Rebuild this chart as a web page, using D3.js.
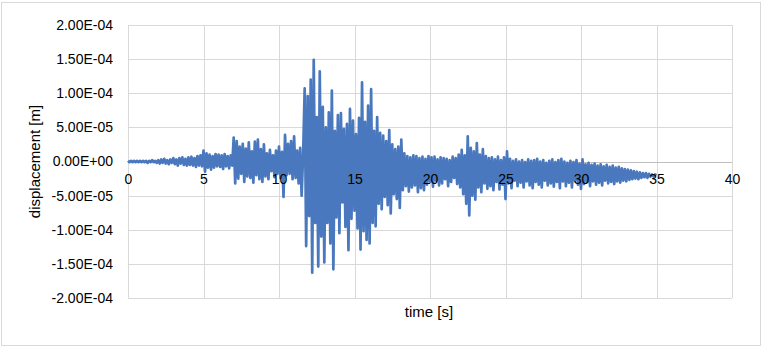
<!DOCTYPE html>
<html>
<head>
<meta charset="utf-8">
<script src="https://d3js.org/d3.v7.min.js"></script>
<style>
  body { margin: 0; background: #fff; }
  text { font-family: "Liberation Sans", Arial, sans-serif; fill: #000; }
</style>
</head>
<body>
<script>
  const W = 763, H = 348
  const margin = { top: 25, right: 31, bottom: 50, left: 128 }

  // x axis (time, s)
  const xTicks = [0, 5, 10, 15, 20, 25, 30, 35, 40]
  // y axis (displacement, m)
  const yTicks = [2e-4, 1.5e-4, 1e-4, 5e-5, 0, -5e-5, -1e-4, -1.5e-4, -2e-4]
  const yTickLabels = ["2.00E-04", "1.50E-04", "1.00E-04", "5.00E-05", "0.00E+00",
                       "-5.00E-05", "-1.00E-04", "-1.50E-04", "-2.00E-04"]

  const t0 = 0, dt = 0.1
  const disp = [
    0.1,-0.1,0.1,-0.1,0.1,-0.1,0.1,-0.1,0.1,-0.1,
    0.1,-0.1,0.1,-0.2,0.1,-0.1,0.2,-0.1,0.1,-0.2,
    0.2,-0.3,0.3,-0.2,0.4,-0.3,0.2,-0.4,0.3,-0.2,
    0.5,-0.4,0.3,-0.6,0.5,-0.3,0.6,-0.5,0.4,-0.6,
    0.6,-0.5,0.7,-0.6,0.5,-0.8,0.8,-0.6,0.9,-0.7,
    1.6,-1.5,1.2,-0.9,1.0,-1.2,0.8,-0.9,1.1,-0.7,
    1.0,-0.8,0.9,-1.1,1.1,-0.7,0.8,-1.0,0.9,-0.6,
    3.5,-3.2,3.0,-2.5,2.2,-1.8,2.6,-3.0,1.9,-2.2,
    2.8,-2.4,1.5,-3.1,2.9,-2.0,3.2,-2.6,1.8,-3.0,
    2.5,-2.2,1.2,-2.6,1.7,-1.4,0.9,-2.3,1.6,-1.8,
    2.2,-2.4,1.4,-5.2,3.9,-2.0,2.6,-1.8,3.0,-2.6,
    3.7,-2.4,1.6,-3.2,2.0,-5.0,1.2,10.7,-12.4,9.6,
    -8.0,12.0,-16.3,14.9,-9.0,6.5,-15.4,13.2,-11.0,8.0,
    -14.8,5.0,-9.0,7.2,-12.0,10.4,-15.8,4.5,-8.2,6.8,
    -10.5,7.1,-6.0,4.8,-9.6,5.5,-13.0,7.7,-8.4,6.0,
    -7.2,4.0,-9.8,6.4,-12.9,11.6,-10.2,5.8,-11.5,8.2,
    -12.0,10.6,-9.0,4.5,-9.5,6.5,-6.2,4.2,-7.0,3.8,
    -5.2,3.0,-6.4,4.6,-7.6,2.5,-4.8,1.8,-5.5,2.2,
    -6.8,3.2,-4.2,1.2,-3.6,0.8,-4.4,0.6,-3.8,0.9,
    -3.5,0.8,-4.5,0.5,-3.9,0.7,-4.2,0.4,-3.4,0.8,
    -3.0,0.6,-3.7,0.7,-2.8,0.3,-3.5,0.6,-3.2,0.5,
    -2.6,0.4,-3.6,0.2,-3.0,0.7,-2.4,0.5,-3.3,1.0,
    -3.8,1.7,-4.8,0.9,-6.2,3.7,-7.9,2.0,-5.0,1.5,
    -5.6,2.7,-3.8,1.0,-4.5,1.8,-3.2,0.8,-4.0,0.5,
    -3.6,0.6,-4.2,0.3,-3.0,0.7,-4.1,0.2,-3.4,0.6,
    -5.5,1.5,-3.2,0.4,-3.9,0.1,-2.8,0.3,-3.6,0.0,
    -3.1,0.2,-3.8,-0.1,-2.9,0.3,-3.5,0.1,-3.9,0.2,
    -3.0,0.4,-3.4,0.0,-3.8,0.2,-2.8,-0.2,-3.5,0.1,
    -3.2,0.3,-3.7,-0.1,-3.0,0.2,-3.9,0.4,-2.9,0.0,
    -3.6,-0.2,-3.1,0.1,-3.8,-0.1,-2.8,0.2,-3.4,-0.3,
    -4.0,0.3,-3.3,-0.4,-3.0,-0.2,-3.6,-0.5,-2.9,-0.3,
    -3.4,-0.6,-3.1,-0.4,-3.5,-0.7,-2.8,-0.5,-3.2,-0.8,
    -3.0,-0.6,-3.3,-0.9,-2.9,-0.8,-3.1,-1.0,-2.8,-1.1,
    -2.9,-1.2,-2.7,-1.3,-2.6,-1.4,-2.5,-1.5,-2.6,-1.6,
    -2.4,-1.7,-2.3,-1.7,-2.4,-1.8,-2.2,-1.9,-2.2,-1.9,
    -2.0
  ]
  const unit = 1e-5

  const svg = d3.select("body").append("svg")
    .attr("width", W)
    .attr("height", H)

  // chart area border
  svg.append("rect")
    .attr("x", 1.5).attr("y", 2.5)
    .attr("width", W - 4).attr("height", H - 5)
    .attr("fill", "#fff")
    .attr("stroke", "#d9d9d9")

  const x = d3.scaleLinear().domain([0, 40]).range([margin.left, W - margin.right])
  const y = d3.scaleLinear().domain([-2e-4, 2e-4]).range([H - margin.bottom, margin.top])

  // gridlines
  svg.append("g")
    .selectAll("line.vg")
    .data(xTicks)
    .join("line")
      .attr("x1", d => Math.round(x(d)) + 0.5).attr("x2", d => Math.round(x(d)) + 0.5)
      .attr("y1", y(2e-4)).attr("y2", y(-2e-4))
      .attr("stroke", "#d9d9d9")
  svg.append("g")
    .selectAll("line.hg")
    .data(yTicks)
    .join("line")
      .attr("x1", x(0)).attr("x2", x(40))
      .attr("y1", d => Math.round(y(d)) + 0.5).attr("y2", d => Math.round(y(d)) + 0.5)
      .attr("stroke", d => d === 0 ? "#bfbfbf" : "#d9d9d9")

  // y tick labels
  const yAxis = d3.axisLeft(y)
    .tickValues(yTicks)
    .tickFormat((d, i) => yTickLabels[i])
    .tickSize(0)
    .tickPadding(15)
  const gy = svg.append("g")
    .attr("transform", `translate(${margin.left},0)`)
    .call(yAxis)
  gy.select(".domain").remove()
  gy.selectAll("text")
    .style("font-family", "'Liberation Sans', Arial, sans-serif")
    .style("font-size", "14px")
    .attr("fill", "#000")

  // the record
  const pts = disp.map((v, i) => [t0 + i * dt, v * unit])
  const line = d3.line()
    .x(d => x(d[0]))
    .y(d => y(d[1]))
  svg.append("path")
    .datum(pts)
    .attr("d", line)
    .attr("fill", "none")
    .attr("stroke", "#4a78be")
    .attr("stroke-width", 2.7)
    .attr("stroke-linejoin", "round")

  // x tick labels sit on the zero line
  const xAxis = d3.axisBottom(x)
    .tickValues(xTicks)
    .tickFormat(d3.format("d"))
    .tickSize(0)
    .tickPadding(13)
  const gx = svg.append("g")
    .attr("transform", `translate(0,${y(0)})`)
    .call(xAxis)
  gx.select(".domain").remove()
  gx.selectAll("text")
    .style("font-family", "'Liberation Sans', Arial, sans-serif")
    .style("font-size", "14px")
    .attr("fill", "#000")

  // axis titles
  svg.append("text")
    .attr("x", 429).attr("y", 317)
    .attr("text-anchor", "middle")
    .style("font-size", "15px")
    .text("time [s]")
  svg.append("text")
    .attr("transform", `translate(40,${(margin.top + H - margin.bottom) / 2}) rotate(-90)`)
    .attr("text-anchor", "middle")
    .style("font-size", "15px")
    .text("displacement [m]")
</script>
</body>
</html>
